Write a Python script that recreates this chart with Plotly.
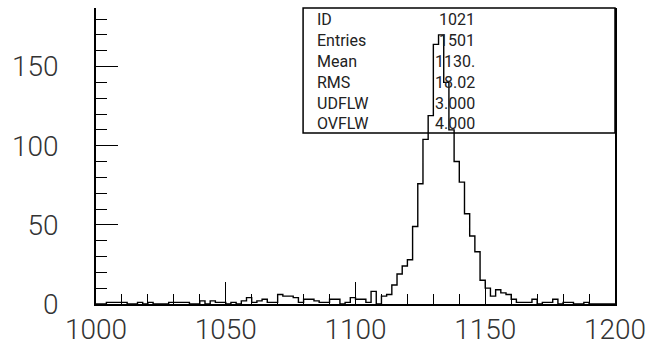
import numpy as np
import plotly.graph_objects as go

# histogram 1021: 100 bins from 1000 to 1200
x_low, x_high, n_bins = 1000, 1200, 100
counts = [
    0, 0, 1, 1, 1, 1, 0, 0, 1, 0,
    1, 0, 0, 0, 1, 1, 1, 1, 0, 0,
    2, 0, 2, 1, 1, 0, 1, 0, 2, 4,
    1, 2, 3, 1, 1, 6, 5, 5, 4, 1,
    3, 3, 2, 1, 1, 3, 3, 0, 1, 4,
    3, 3, 1, 8, 0, 5, 6, 12, 19, 24,
    28, 49, 76, 104, 119, 164, 170, 140, 110, 90,
    77, 57, 43, 33, 15, 10, 5, 9, 7, 6,
    3, 1, 1, 1, 3, 0, 1, 1, 3, 0,
    1, 1, 0, 0, 1, 0, 0, 0, 0, 0,
]
y_max = 187

stat_names = ["ID", "Entries", "Mean", "RMS", "UDFLW", "OVFLW"]
stat_values = ["1021", "1501", "1130.", "18.02", "3.000", "4.000"]

edges = np.linspace(x_low, x_high, n_bins + 1)
# step outline: start on the baseline, one point per bin edge
xs = [x_low] + list(edges)
ys = [0] + counts + [counts[-1]]

fig = go.Figure()
fig.add_trace(go.Scatter(
    x=xs, y=ys, mode="lines", line_shape="hv",
    line=dict(color="black", width=1.4),
    hoverinfo="skip", showlegend=False,
))

tick_font = dict(family="Roboto", size=28, color="#333333", weight=300)

fig.update_xaxes(
    range=[x_low, x_high], showline=True, linecolor="black", linewidth=1.5,
    showgrid=False, zeroline=False, automargin=False,
    ticks="inside", tickcolor="black", ticklen=22, tickwidth=1,
    tick0=1000, dtick=50, tickfont=tick_font, ticklabelstandoff=0,
    minor=dict(ticks="inside", ticklen=10, dtick=10, tickcolor="black", showgrid=False),
)
fig.update_yaxes(
    range=[0, y_max], showline=True, linecolor="black", linewidth=1.5, mirror=True,
    showgrid=False, zeroline=False, automargin=False,
    ticks="inside", tickcolor="black", ticklen=22, tickwidth=1,
    tick0=0, dtick=50, tickfont=tick_font, ticklabelstandoff=30,
    minor=dict(ticks="inside", ticklen=11, dtick=10, tickcolor="black", showgrid=False),
)

# statistics box in the upper right corner
box_x0, box_y0 = 0.399, 0.578
fig.add_shape(type="rect", xref="paper", yref="paper",
              x0=box_x0, x1=1.0, y0=box_y0, y1=1.0,
              line=dict(color="black", width=1.5), fillcolor="rgba(0,0,0,0)")
row_h = (1.0 - box_y0) / len(stat_names)
stat_font = dict(family="Roboto", size=16, color="#222222")
for i, (name, val) in enumerate(zip(stat_names, stat_values)):
    yc = 1.0 - row_h * (i + 0.5) - 0.005
    fig.add_annotation(x=box_x0 + 0.023, y=yc, xref="paper", yref="paper",
                       text=name, showarrow=False, xanchor="left", yanchor="middle",
                       font=stat_font)
    fig.add_annotation(x=0.735, y=yc, xref="paper", yref="paper",
                       text=val, showarrow=False, xanchor="right", yanchor="middle",
                       font=stat_font)

fig.update_layout(
    width=659, height=347,
    margin=dict(l=96, r=44, t=8, b=43),
    paper_bgcolor="white", plot_bgcolor="white",
    showlegend=False,
)

# drop the default page margin so the figure sits at the window's corner
fig.write_html("out.html", config={"displayModeBar": False},
               post_script="document.body.style.margin='0';")
